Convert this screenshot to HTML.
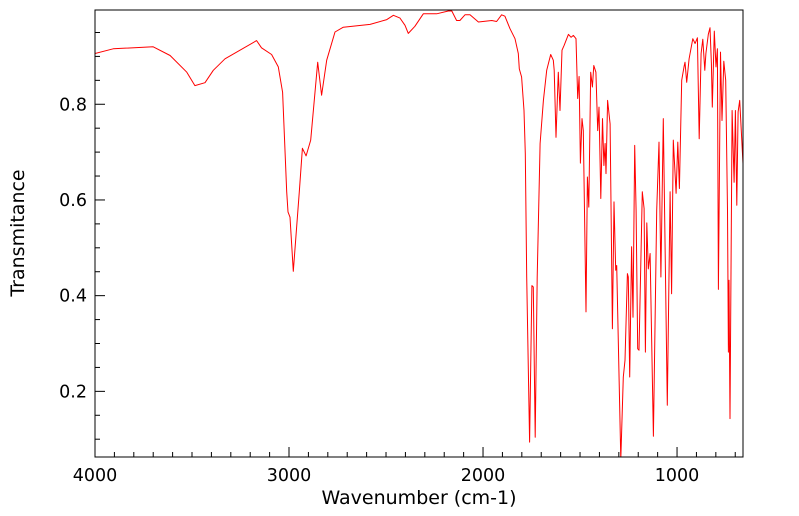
<!DOCTYPE html>
<html><head><meta charset="utf-8"><style>
html,body{margin:0;padding:0;background:#fff;}
svg{display:block;font-family:"DejaVu Sans","Liberation Sans",sans-serif;}
</style></head><body>
<svg id="chart" width="799" height="516" viewBox="0 0 799 516" xmlns="http://www.w3.org/2000/svg">
<defs><clipPath id="clip"><rect x="95" y="10" width="648" height="447"/></clipPath></defs>
<rect x="95" y="10" width="648" height="447" fill="#fff"/>
<g id="ticks"></g>
<polyline id="spectrum" clip-path="url(#clip)" fill="none" stroke="#ff0000" stroke-width="1" stroke-linejoin="round"/>
<rect x="95" y="10" width="648" height="447" fill="none" stroke="#000" stroke-width="1"/>
<g id="labels" font-size="17.5" fill="#000"></g>
<text x="419" y="504" font-size="19" text-anchor="middle">Wavenumber (cm-1)</text>
<text x="24" y="233" font-size="19" text-anchor="middle" transform="rotate(-90 24 233)">Transmitance</text>
</svg>
<script>
const wavenumbers = [4000,3906,3700,3613,3527,3485,3433,3390,3330,3167,3142,3090,3055,3033,3012,3005,2995,2978,2947,2931,2912,2888,2852,2832,2806,2763,2720,2582,2496,2462,2428,2402,2385,2351,2308,2239,2179,2161,2136,2119,2093,2067,2024,1955,1930,1904,1887,1861,1835,1818,1813,1801,1789,1782,1775,1760,1748,1741,1731,1721,1706,1689,1672,1651,1638,1633,1624,1612,1603,1593,1582,1560,1546,1534,1521,1512,1505,1498,1490,1483,1469,1462,1455,1445,1436,1429,1418,1409,1402,1393,1384,1377,1371,1366,1358,1345,1333,1325,1316,1311,1290,1277,1268,1256,1251,1244,1234,1227,1218,1211,1203,1196,1179,1170,1163,1156,1148,1139,1122,1105,1093,1083,1071,1050,1036,1028,1019,1005,996,988,976,964,959,950,938,919,907,895,886,876,867,857,851,839,830,823,818,808,799,792,787,776,768,759,749,740,735,732,727,716,706,699,692,685,677,660];
const transmittance = [0.906,0.916,0.920,0.902,0.867,0.839,0.845,0.871,0.895,0.933,0.918,0.904,0.878,0.825,0.617,0.575,0.564,0.451,0.617,0.708,0.692,0.725,0.888,0.819,0.892,0.951,0.961,0.967,0.977,0.986,0.980,0.965,0.948,0.963,0.989,0.989,0.995,0.995,0.975,0.975,0.987,0.987,0.972,0.975,0.973,0.987,0.984,0.958,0.937,0.906,0.874,0.857,0.787,0.697,0.439,0.094,0.421,0.418,0.104,0.439,0.718,0.808,0.871,0.904,0.892,0.871,0.731,0.867,0.787,0.913,0.923,0.946,0.940,0.944,0.937,0.812,0.858,0.677,0.770,0.745,0.366,0.648,0.585,0.867,0.836,0.881,0.867,0.745,0.794,0.603,0.770,0.672,0.718,0.655,0.808,0.759,0.331,0.596,0.453,0.463,0.058,0.230,0.265,0.446,0.439,0.230,0.502,0.355,0.714,0.578,0.289,0.286,0.617,0.582,0.282,0.552,0.456,0.488,0.106,0.578,0.721,0.439,0.770,0.171,0.617,0.404,0.725,0.614,0.721,0.624,0.850,0.878,0.888,0.846,0.895,0.937,0.927,0.939,0.728,0.906,0.936,0.871,0.906,0.946,0.960,0.885,0.794,0.953,0.878,0.916,0.413,0.909,0.766,0.890,0.850,0.578,0.282,0.432,0.143,0.787,0.637,0.787,0.589,0.784,0.808,0.676];
const xTickLabels = [4000,3000,2000,1000];
const yTickLabels = [0.2,0.4,0.6,0.8];

const X0=95, X1=743, Y0=10, Y1=457;
const W_MAX=4000, W_MIN=660, T_MIN=0.0628, T_MAX=0.997;
function xs(w){return X0+(W_MAX-w)/(W_MAX-W_MIN)*(X1-X0);}
function ys(t){return Y1-(t-T_MIN)/(T_MAX-T_MIN)*(Y1-Y0);}

const NS="http://www.w3.org/2000/svg";
document.getElementById('spectrum').setAttribute('points',
  wavenumbers.map((w,i)=>xs(w).toFixed(1)+','+ys(transmittance[i]).toFixed(1)).join(' '));

const tg=document.getElementById('ticks');
const lg=document.getElementById('labels');
function line(x1,y1,x2,y2,name){
  const l=document.createElementNS(NS,'line');
  l.setAttribute('x1',x1);l.setAttribute('y1',y1);l.setAttribute('x2',x2);l.setAttribute('y2',y2);
  l.setAttribute('stroke','#000');l.setAttribute('stroke-width','1');
  
  
  tg.appendChild(l);
}
for(let w=4000; w>=W_MIN; w-=100){
  const x=xs(w), major=(w%1000===0);
  line(x,Y1,x,Y1-(major?10:5),'x-tick');
}
for(let k=2;k<=19;k++){
  const t=k*0.05; if(t<T_MIN||t>T_MAX) continue;
  const y=ys(t), major=(k%4===0);
  line(X0,y,X0+(major?10:5),y,'y-tick');
}
xTickLabels.forEach(v=>{
  const t=document.createElementNS(NS,'text');
  t.setAttribute('x',xs(v));t.setAttribute('y',Y1+24);t.setAttribute('text-anchor','middle');
  t.textContent=v;
  
  
  lg.appendChild(t);
});
yTickLabels.forEach(v=>{
  const t=document.createElementNS(NS,'text');
  t.setAttribute('x',X0-8);t.setAttribute('y',ys(v)+6);t.setAttribute('text-anchor','end');
  t.textContent=v.toFixed(1);
  
  
  lg.appendChild(t);
});
</script>
</body></html>
